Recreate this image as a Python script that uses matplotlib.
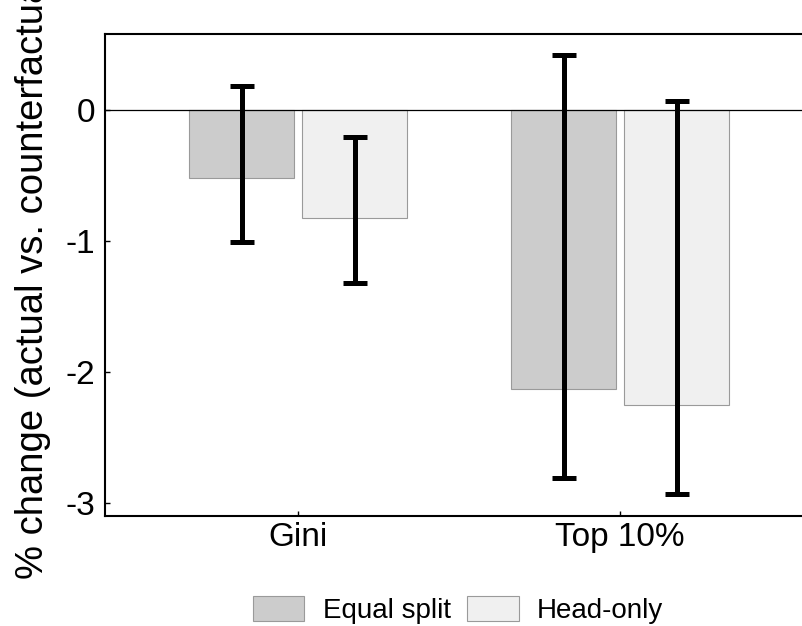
import matplotlib
matplotlib.use('Agg')
import matplotlib.pyplot as plt
import numpy as np
from matplotlib.patches import Patch

plt.rcParams['font.family'] = ['Liberation Sans', 'DejaVu Sans']

categories = ['Gini', 'Top 10%']
series = ['Equal split', 'Head-only']
values = {
    'Equal split': [-0.52, -2.13],
    'Head-only':   [-0.825, -2.25],
}
err_low = {
    'Equal split': [-1.01, -2.81],
    'Head-only':   [-1.32, -2.93],
}
err_high = {
    'Equal split': [0.185, 0.42],
    'Head-only':   [-0.21, 0.065],
}
colors = {'Equal split': '#CCCCCC', 'Head-only': '#F0F0F0'}

fig = plt.figure(figsize=(8.02, 6.26), dpi=100)
ax = fig.add_axes([105 / 802, 1 - 516 / 626, (813.5 - 105) / 802, (516 - 34) / 626])

x = np.arange(1, len(categories) + 1)
w = 0.325
offs = [-0.1755, 0.1755]
for s, off in zip(series, offs):
    v = np.array(values[s])
    lo = np.array(err_low[s])
    hi = np.array(err_high[s])
    ax.bar(x + off, v, w, color=colors[s], edgecolor='#9A9A9A', linewidth=0.8, zorder=2)
    ax.errorbar(x + off, (lo + hi) / 2, yerr=(hi - lo) / 2, fmt='none', ecolor='black',
                elinewidth=3.6, capsize=8.5, capthick=3.6, zorder=4)

ax.axhline(0, color='black', linewidth=0.9, zorder=3)

ax.set_xlim(0.4, 2.6)
ax.set_ylim(-3.1, 0.58)
ax.set_xticks(x)
ax.set_xticklabels(categories, fontsize=24)
ax.set_yticks([0, -1, -2, -3])
ax.set_yticklabels(['0', '-1', '-2', '-3'], fontsize=24)
ax.tick_params(axis='both', direction='in', length=3.5, width=1.0, color='black')
ax.tick_params(axis='y', pad=7)
ax.tick_params(axis='x', pad=4)
for sp in ['left', 'bottom', 'top', 'right']:
    ax.spines[sp].set_linewidth(1.5)

ax.set_ylabel('% change (actual vs. counterfactual)', fontsize=27.5)
ax.yaxis.set_label_coords(-54 / 708.5, 0.51)

handles = [Patch(facecolor=colors[s], edgecolor='#9A9A9A', linewidth=0.8, label=s) for s in series]
fig.legend(handles=handles, loc='center', bbox_to_anchor=(458 / 802, 1 - 610 / 626), ncol=2,
           frameon=False, fontsize=20, handlelength=1.87, handleheight=1.04,
           handletextpad=0.65, columnspacing=0.6, borderpad=0)

fig.savefig('out.png', dpi=100)
